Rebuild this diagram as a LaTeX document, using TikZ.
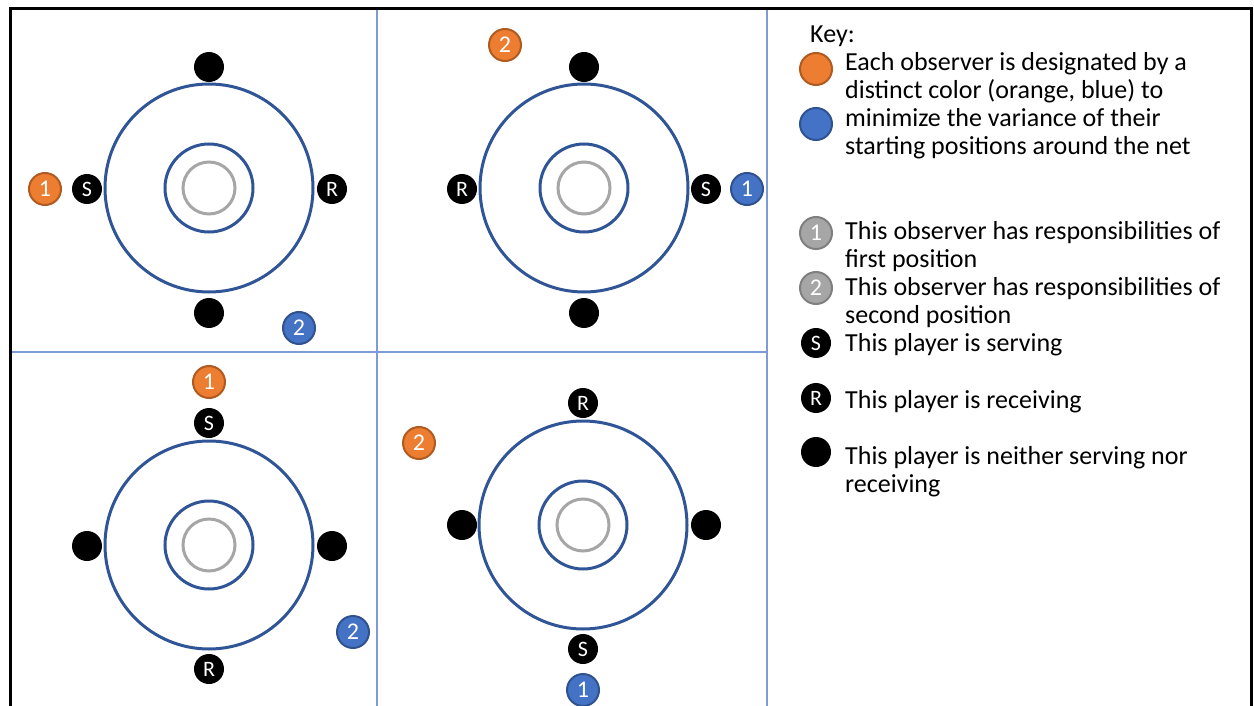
\documentclass[tikz,border=0pt]{standalone}
\usepackage{fontspec}
\setmainfont{Carlito}
\definecolor{netblue}{RGB}{47,85,151}
\definecolor{netgray}{RGB}{166,166,166}
\definecolor{orng}{RGB}{237,125,49}
\definecolor{orngdark}{RGB}{174,90,33}
\definecolor{blu}{RGB}{68,114,196}
\definecolor{bludark}{RGB}{47,82,143}
\definecolor{gry}{RGB}{166,166,166}
\definecolor{grydark}{RGB}{127,127,127}
\definecolor{divider}{RGB}{125,155,212}
\tikzset{
  player/.style={circle, fill=black, minimum size=30pt, inner sep=0pt, text=white,
    font=\fontsize{22}{22}\selectfont},
  observer/.style={circle, line width=2pt, minimum size=32pt, inner sep=0pt, text=white,
    font=\fontsize{24}{24}\selectfont},
  obsorange/.style={observer, fill=orng, draw=orngdark},
  obsblue/.style={observer, fill=blu, draw=bludark},
  obsgray/.style={observer, fill=gry, draw=grydark},
  keytext/.style={anchor=base west, inner sep=0pt, align=left,
    font=\fontsize{26}{28}\selectfont}
}
\begin{document}
\begin{tikzpicture}[x=1pt, y=-1pt]
 \useasboundingbox (0,0) rectangle (1254,706);
 % frame and dividers
 \draw[divider, line width=1.2pt] (377,9) -- (377,706);
 \draw[divider, line width=1.2pt] (767,9) -- (767,706);
 \draw[divider, line width=1.2pt] (10,352) -- (767,352);
 \draw[line width=3pt] (10,707) -- (10,9) -- (1251,9) -- (1251,707);
 % the four nets
 \foreach \cx/\cy/\q in {209/188/a, 584/188/b, 209/545/c, 583/525/d}{
 \node[circle, draw=netblue, line width=3pt, minimum size=208pt, inner sep=0pt] (\q) at (\cx,\cy) {};
 \node[circle, draw=netblue, line width=3pt, minimum size=88pt, inner sep=0pt] (\q-in) at (\cx,\cy) {};
 \node[circle, draw=netgray, line width=3pt, minimum size=52pt, inner sep=0pt] (\q-ball) at (\cx,\cy) {};}
 % top left
 \node[player] (a-n) at (209,67) {};
 \node[player] (a-s) at (209,313) {};
 \node[player] (a-w) at (87,189) {S};
 \node[player] (a-e) at (332,189) {R};
 \node[obsorange] (a-o1) at (45,189) {1};
 \node[obsblue] (a-o2) at (299,328) {2};
 % top right
 \node[player] (b-n) at (584,67) {};
 \node[player] (b-s) at (584,313) {};
 \node[player] (b-w) at (462,189) {R};
 \node[player] (b-e) at (706,189) {S};
 \node[obsblue] (b-o1) at (747,189) {1};
 \node[obsorange] (b-o2) at (505,45) {2};
 % bottom left
 \node[player] (c-n) at (209,423) {S};
 \node[player] (c-s) at (209,669) {R};
 \node[player] (c-w) at (87,546) {};
 \node[player] (c-e) at (332,546) {};
 \node[obsorange] (c-o1) at (209,382) {1};
 \node[obsblue] (c-o2) at (353,632) {2};
 % bottom right
 \node[player] (d-n) at (583,403) {R};
 \node[player] (d-s) at (583,649) {S};
 \node[player] (d-w) at (462,525) {};
 \node[player] (d-e) at (706,525) {};
 \node[obsorange] (d-o2) at (419,443) {2};
 \node[obsblue] (d-o1) at (583,690) {1};
 % key
 \node[keytext] (key) at (810,43) {Key:};
 \node[obsorange] (k-orange) at (816,69) {};
 \node[obsblue] (k-blue) at (816,124) {};
 \node[keytext] (k-color) at (845,155) {Each observer is designated by a\\distinct color (orange, blue) to\\minimize the variance of their\\starting positions around the net};
 \node[obsgray] (k-g1) at (816,233) {1};
 \node[keytext] (k-first) at (845,267) {This observer has responsibilities of\\first position};
 \node[obsgray] (k-g2) at (816,288) {2};
 \node[keytext] (k-second) at (845,323) {This observer has responsibilities of\\second position};
 \node[player] (k-s) at (816,343) {S};
 \node[keytext] (k-serve) at (845,351) {This player is serving};
 \node[player] (k-r) at (816,398) {R};
 \node[keytext] (k-receive) at (845,408) {This player is receiving};
 \node[player] (k-dot) at (816,452) {};
 \node[keytext] (k-neither) at (845,492) {This player is neither serving nor\\receiving};
\end{tikzpicture}
\end{document}
